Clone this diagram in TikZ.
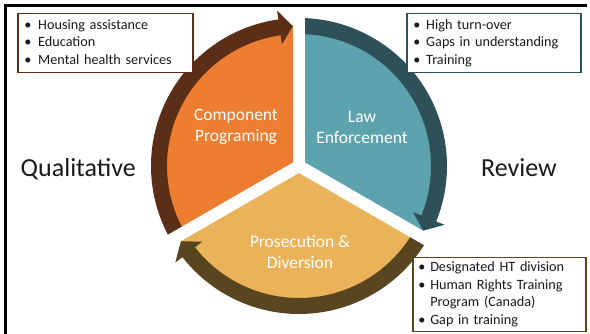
\documentclass[tikz,border=0pt]{standalone}
\usepackage{fontspec}
\setmainfont{Carlito}
\definecolor{orangeS}{HTML}{ED7D31}
\definecolor{orangeA}{HTML}{5B2E17}
\definecolor{tealS}{HTML}{5DA3AE}
\definecolor{tealA}{HTML}{2E5159}
\definecolor{yellowS}{HTML}{EAB35A}
\definecolor{yellowA}{HTML}{5A4521}
\definecolor{textD}{HTML}{1A1A1A}
\newcommand\cyclearrow[3]{%
  \pgfmathsetmacro\hb{#3+5.5}%
  \fill[#1] (#2:132) arc[start angle=#2,end angle=\hb,radius=132] -- (\hb:123) -- (#3:140) -- (\hb:157) -- (\hb:148) arc[start angle=\hb,end angle=#2,radius=148] -- cycle;}
\begin{document}
\begin{tikzpicture}[x=1pt,y=1pt,
  seglabel/.style={text=white,font=\fontsize{17.5}{21}\selectfont,align=center,inner sep=0pt},
  sidelabel/.style={text=textD,font=\fontsize{26}{30}\selectfont,inner sep=0pt},
  infobox/.style={draw=#1,line width=1.5pt,fill=white,anchor=north west,align=left,
    font=\fontsize{14.2}{17.5}\selectfont,text=textD,inner ysep=0pt}]
\useasboundingbox (0,0) rectangle (590,-334);
\fill[white] (0,0) rectangle (590,-334);
\begin{scope}[shift={(299,-166)}]
  \fill[orangeS] (0,0) -- (90:140) arc[start angle=90,end angle=210,radius=140] -- cycle;
  \fill[tealS] (0,0) -- (-30:140) arc[start angle=-30,end angle=90,radius=140] -- cycle;
  \fill[yellowS] (0,0) -- (210:140) arc[start angle=210,end angle=330,radius=140] -- cycle;
  \cyclearrow{orangeA}{210}{92.5}
  \cyclearrow{tealA}{90}{-27.5}
  \cyclearrow{yellowA}{330}{212.5}
  \draw[white,line width=12pt] (0,0) -- (90:159);
  \draw[white,line width=12pt] (0,0) -- (210:162);
  \draw[white,line width=12pt] (0,0) -- (330:162);
\end{scope}
\draw[line width=3pt] (5,-334) -- (5,-5.5) -- (587,-5.5);
\node[seglabel] (comp) at (236,-127) {Component\\Programing};
\node[seglabel] (law) at (362,-127) {Law\\Enforcement};
\node[seglabel] (pros) at (300,-252) {Prosecution \&\\Diversion};
\node[sidelabel,anchor=base west] (qual) at (20.5,-177) {Qualitative};
\node[sidelabel,anchor=base west] (rev) at (481,-177) {Review};
\node[infobox=orangeA,minimum width=175pt,minimum height=59pt,text width=162pt,inner xsep=6pt] (box1) at (17,-13)
  {\begin{tabular}{@{}p{14pt}@{}l@{}}•&Housing assistance\\•&Education\\•&Mental health services\end{tabular}};
\node[infobox=tealA,minimum width=174pt,minimum height=59pt,text width=161pt,inner xsep=6pt] (box2) at (406,-13)
  {\begin{tabular}{@{}p{13pt}@{}l@{}}•&High turn-over\\•&Gaps in understanding\\•&Training\end{tabular}};
\node[infobox=yellowA,minimum width=173pt,minimum height=74pt,text width=162pt,inner xsep=5pt] (box3) at (412,-257)
  {\begin{tabular}{@{}p{12pt}@{}l@{}}•&Designated HT division\\•&Human Rights Training\\&Program (Canada)\\•&Gap in training\end{tabular}};
\end{tikzpicture}
\end{document}
